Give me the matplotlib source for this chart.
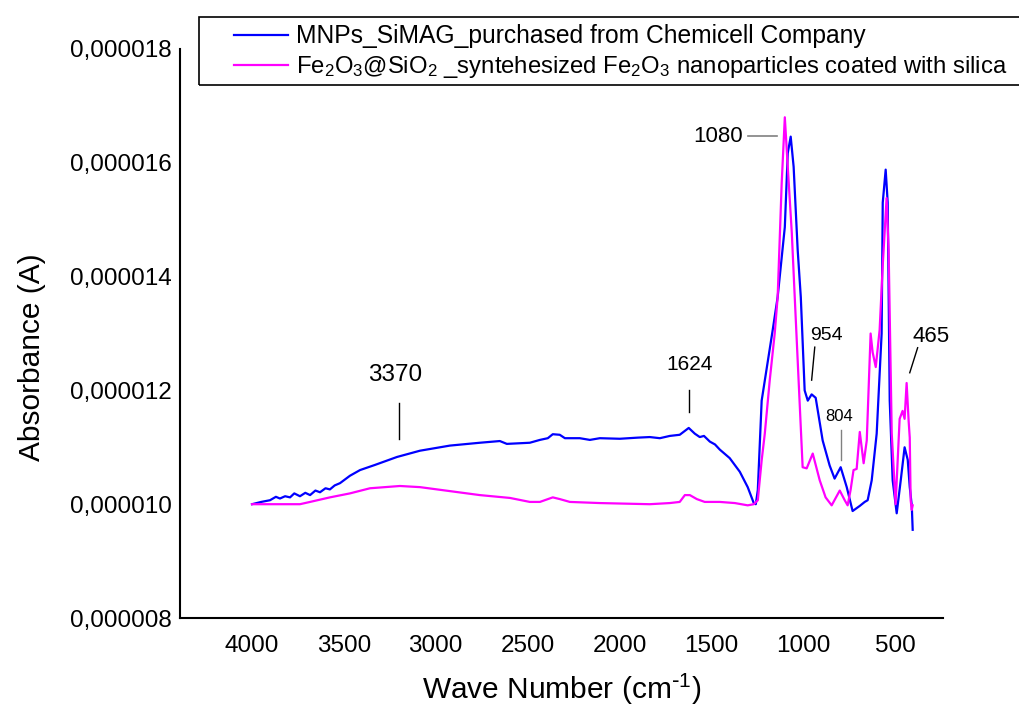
import matplotlib
matplotlib.use('Agg')
from matplotlib import pyplot as plt
from matplotlib.patches import Rectangle
from matplotlib.ticker import FuncFormatter

plt.rcParams['font.family'] = ['Liberation Sans', 'DejaVu Sans']
plt.rcParams['mathtext.default'] = 'regular'

# MNPs_SiMAG (blue), absorbance in units of 1e-6
wn_mnp = [4000, 3950, 3902, 3870, 3848, 3820, 3793, 3770, 3739, 3710, 3684, 3655, 3630,
          3600, 3576, 3550, 3521, 3467, 3412, 3331,
          3211, 3086, 2923, 2760, 2651, 2613, 2488, 2433, 2390, 2363, 2325, 2297,
          2216, 2161, 2107, 1998, 1900, 1835, 1780, 1726, 1672, 1623, 1590, 1563, 1540,
          1508, 1480, 1454, 1400,
          1345, 1302, 1269, 1258, 1247, 1226, 1198, 1166, 1139, 1100, 1084, 1068,
          1052, 1030, 1013, 992, 975, 954, 932, 894, 856, 829, 796, 763, 731, 692,
          665, 649, 627, 600, 573, 567, 551, 540, 529, 513, 491, 469, 448, 431, 420,
          409, 404]
abs_mnp = [10.00, 10.04, 10.07, 10.13, 10.10, 10.14, 10.12, 10.19, 10.14, 10.20, 10.16, 10.24, 10.21,
           10.28, 10.26, 10.33, 10.37, 10.50, 10.60, 10.69,
           10.83, 10.94, 11.03, 11.08, 11.11, 11.06, 11.08, 11.13, 11.16, 11.23, 11.22, 11.16,
           11.16, 11.13, 11.16, 11.15, 11.17, 11.18, 11.16, 11.20, 11.22, 11.34, 11.24, 11.18, 11.20,
           11.10, 11.05, 10.96, 10.81,
           10.57, 10.30, 10.02, 10.00, 10.25, 11.82, 12.40, 13.06, 13.64, 14.87, 16.17, 16.46,
           15.93, 14.47, 13.64, 12.00, 11.82, 11.93, 11.87, 11.12, 10.68, 10.45, 10.65, 10.30, 9.88, 9.97,
           10.04, 10.07, 10.42, 11.24, 13.00, 15.30, 15.88, 15.30, 11.82, 10.42, 9.84, 10.42, 11.00, 10.78, 10.30,
           9.98, 9.55]

# Fe2O3@SiO2 (magenta)
wn_fe = [4000, 3848, 3739, 3684, 3576, 3467, 3358, 3195, 3086, 2923, 2760, 2596,
         2488, 2433, 2363, 2325, 2270, 2107, 1835, 1726, 1672, 1644, 1617, 1579,
         1536, 1454, 1372, 1302, 1269, 1247, 1226, 1209, 1182, 1155, 1139, 1117,
         1100, 1084, 1062, 1046, 1003, 981, 948, 910, 878, 845, 801, 774,
         758, 742, 726, 709, 692, 671, 654, 633, 622, 605, 584, 567, 546, 535,
         518, 497, 475, 459, 448, 437, 426, 420, 415, 409, 404]
abs_fe = [10.00, 10.00, 10.00, 10.04, 10.12, 10.19, 10.28, 10.32, 10.30, 10.23, 10.16, 10.11,
          10.04, 10.04, 10.12, 10.09, 10.04, 10.02, 10.00, 10.02, 10.04, 10.16, 10.16, 10.09,
          10.04, 10.04, 10.02, 9.98, 10.00, 10.07, 10.77, 11.24, 12.18, 13.00, 13.64, 15.64,
          16.80, 15.93, 14.77, 13.64, 10.65, 10.63, 10.89, 10.42, 10.12, 9.98, 10.24, 10.07,
          9.98, 10.25, 10.60, 10.62, 11.27, 10.72, 11.12, 13.00, 12.67, 12.41, 13.06, 14.20, 15.38, 14.47,
          11.24, 10.00, 11.50, 11.64, 11.50, 12.13, 11.46, 11.17, 10.07, 9.90, 9.98]

# peak labels: text, text position, line start, line end, font size, line colour
peaks = [('3370', (3222, 12.27), (3200, 11.78), (3200, 11.15), 17.5, 'black'),
         ('1624', (1617, 12.46), (1623, 12.01), (1623, 11.62), 15, 'black'),
         ('954', (872, 12.97), (937, 12.76), (954, 12.18), 14, 'black'),
         ('804', (807, 11.55), (796, 11.30), (796, 10.78), 12, 'grey'),
         ('465', (306, 12.94), (377, 12.75), (420, 12.31), 16, 'black')]

fig = plt.figure(figsize=(10.2, 7.09), dpi=100)
ax = fig.add_axes([180 / 1020, 1 - 618 / 709, 763 / 1020, 569 / 709])

e = 1e-6
ax.plot(wn_mnp, [v * e for v in abs_mnp], c='#0000ff', lw=1.6,
        label='MNPs_SiMAG_purchased from Chemicell Company')
ax.plot(wn_fe, [v * e for v in abs_fe], c='#ff00ff', lw=1.6,
        label='Fe$_2$O$_3$@SiO$_2$ _syntehesized Fe$_2$O$_3$ nanoparticles coated with silica')

ax.set_xlim(4392, 239)
ax.set_ylim(8 * e, 18 * e)
ax.set_xticks([4000, 3500, 3000, 2500, 2000, 1500, 1000, 500])
ax.set_yticks([i * e for i in range(8, 19, 2)])
ax.yaxis.set_major_formatter(FuncFormatter(lambda v, p: f'{v:.6f}'.replace('.', ',')))
ax.tick_params(length=0, labelsize=17.5)
ax.tick_params(axis='y', pad=6)
ax.tick_params(axis='x', pad=12)
for s in ('top', 'right'):
    ax.spines[s].set_visible(False)
for s in ('left', 'bottom'):
    ax.spines[s].set_linewidth(1.5)

ax.set_xlabel('Wave Number (cm$^{\\text{-}1}$)', fontsize=21.5, labelpad=11)
ax.set_ylabel('Absorbance (A)', fontsize=21.5)
ax.yaxis.set_label_coords(-0.176, 0.459)

for text, xy, p0, p1, fs, col in peaks:
    ax.text(xy[0], xy[1] * e, text, fontsize=fs, ha='center', va='center')
    ax.plot([p0[0], p1[0]], [p0[1] * e, p1[1] * e], c=col, lw=1)
ax.text(1329, 16.47 * e, '1080', fontsize=16, ha='right', va='center')
ax.plot([1302, 1144], [16.47 * e, 16.47 * e], c='grey', lw=1.2)

fig.patches.append(Rectangle((199 / 1020, 1 - 85 / 709), 0.9, 68 / 709, transform=fig.transFigure,
                             fill=False, ec='black', lw=1.2))
leg = fig.legend(loc='upper left', bbox_to_anchor=(234 / 1020, 1 - 24 / 709), frameon=False,
                 fontsize=17.2, borderpad=0, borderaxespad=0, handlelength=2.25,
                 handletextpad=0.35, labelspacing=0.25)
leg.get_texts()[0].set_fontsize(17.7)

fig.savefig('out.png')
